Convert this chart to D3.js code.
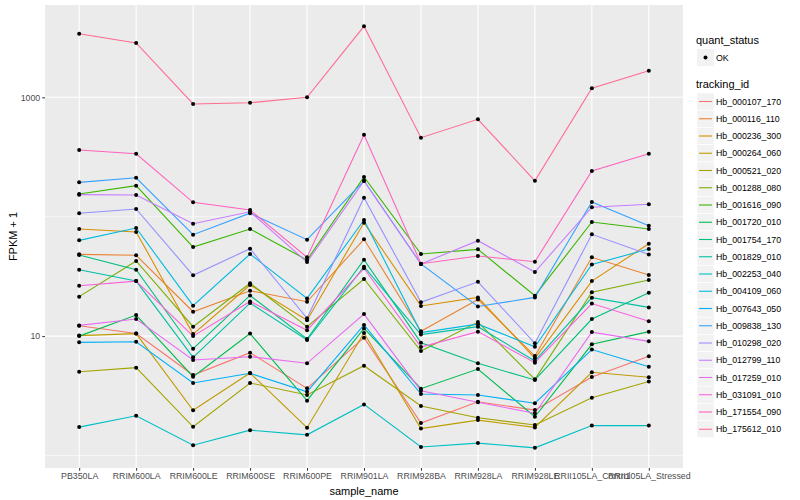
<!DOCTYPE html>
<html>
<head>
<meta charset="utf-8">
<script src="https://cdnjs.cloudflare.com/ajax/libs/d3/7.8.5/d3.min.js"></script>
<style>
  body { margin: 0; background: #fff; }
  text { font-family: "Liberation Sans", Arial, Helvetica, sans-serif; }
</style>
</head>
<body>
<svg id="chart"></svg>
<script>
// samples on the x axis
const samples = ["PB350LA", "RRIM600LA", "RRIM600LE", "RRIM600SE", "RRIM600PE", "RRIM901LA",
                 "RRIM928BA", "RRIM928LA", "RRIM928LE", "RRII105LA_Control", "RRII105LA_Stressed"];

const trackingIds = ["Hb_000107_170", "Hb_000116_110", "Hb_000236_300", "Hb_000264_060", "Hb_000521_020",
                     "Hb_001288_080", "Hb_001616_090", "Hb_001720_010", "Hb_001754_170", "Hb_001829_010",
                     "Hb_002253_040", "Hb_004109_060", "Hb_007643_050", "Hb_009838_130", "Hb_010298_020",
                     "Hb_012799_110", "Hb_017259_010", "Hb_031091_010", "Hb_171554_090", "Hb_175612_010"];

// FPKM + 1, one array per tracking_id, in sample order
const hb000107 = [12.2, 10.5, 4.72, 7.26, 3.65, 9.70, 1.87, 2.82, 2.40, 4.54, 6.77];
const hb000116 = [48.4, 47.5, 16.0, 24.0, 19.4, 64.7, 11.0, 20.3, 6.81, 45.7, 32.5];
const hb000236 = [78.9, 74.5, 10.4, 26.8, 13.6, 89.1, 17.9, 21.1, 6.52, 28.9, 59.4];
const hb000264 = [10.1, 10.5, 2.39, 4.91, 1.71, 10.6, 1.68, 1.98, 1.72, 4.98, 4.52];
const hb000521 = [5.03, 5.44, 1.74, 4.05, 3.21, 5.65, 2.60, 2.07, 1.80, 3.05, 4.17];
const hb001288 = [21.4, 42.6, 12.0, 27.7, 12.0, 30.1, 7.50, 13.1, 4.35, 23.3, 29.5];
const hb001616 = [155, 182, 55.7, 78.9, 43.4, 215, 48.7, 53.3, 21.8, 90.3, 78.9];
const hb001720 = [10.0, 15.0, 4.57, 10.5, 2.88, 11.6, 3.63, 5.30, 2.11, 8.54, 10.9];
const hb001754 = [47.8, 36.0, 7.84, 21.9, 9.46, 43.6, 8.81, 5.92, 4.29, 13.9, 23.1];
const hb001829 = [36.0, 28.9, 6.64, 18.9, 9.28, 38.1, 10.3, 12.0, 6.19, 21.0, 17.4];
const hb002253 = [1.73, 2.15, 1.22, 1.63, 1.49, 2.68, 1.18, 1.27, 1.16, 1.78, 1.78];
const hb004109 = [63.4, 80.4, 18.0, 48.7, 20.7, 93.8, 10.7, 12.6, 8.15, 39.8, 53.6];
const hb007643 = [8.87, 8.98, 4.05, 4.88, 3.42, 12.4, 3.27, 3.21, 2.74, 7.72, 5.54];
const hb009838 = [194, 212, 70.7, 107, 64.2, 200, 40.2, 17.7, 21.1, 133, 84.1];
const hb010298 = [107, 116, 32.3, 54.0, 14.1, 144, 19.2, 28.5, 8.70, 71.2, 48.3];
const hb012799 = [153, 152, 87.4, 110, 41.7, 199, 40.2, 63.0, 34.4, 120, 127];
const hb017259 = [12.3, 13.9, 6.31, 6.72, 5.92, 15.3, 3.49, 2.79, 2.26, 10.8, 9.04];
const hb031091 = [26.4, 28.9, 10.0, 19.5, 11.2, 37.0, 8.1, 10.9, 5.99, 18.75, 13.3];
const hb171554 = [362, 337, 132, 114, 45.7, 486, 40.4, 46.9, 42.0, 242, 337];
const hb175612 = [3410, 2850, 879, 901, 1000, 3933, 459, 654, 200, 1190, 1670];

const seriesValues = [hb000107, hb000116, hb000236, hb000264, hb000521, hb001288, hb001616,
                      hb001720, hb001754, hb001829, hb002253, hb004109, hb007643, hb009838,
                      hb010298, hb012799, hb017259, hb031091, hb171554, hb175612];

const yTicks = [10, 1000];
const yMinor = [1, 100];

// default discrete hue palette, 20 levels
const colors = ["#F8766D", "#EA8331", "#D89000", "#C09B00", "#A3A500", "#7CAE00", "#39B600",
                "#00BB4E", "#00BF7D", "#00C1A3", "#00BFC4", "#00BAE0", "#00B0F6", "#35A2FF",
                "#9590FF", "#C77CFF", "#E76BF3", "#FA62DB", "#FF62BC", "#FF6C91"];

const width = 800, height = 500;
const panel = { left: 45, right: 683, top: 5, bottom: 468 };

const svg = d3.select("#chart").attr("width", width).attr("height", height);

const x = d3.scalePoint()
  .domain(samples)
  .range([panel.left, panel.right])
  .padding(0.6);

const y = d3.scaleLog()
  .domain([0.786, 5930])
  .range([panel.bottom, panel.top]);

// panel background and grid
svg.append("rect")
  .attr("x", panel.left).attr("y", panel.top)
  .attr("width", panel.right - panel.left).attr("height", panel.bottom - panel.top)
  .attr("fill", "#EBEBEB");

svg.append("g").selectAll("line").data(yMinor).join("line")
  .attr("x1", panel.left).attr("x2", panel.right)
  .attr("y1", d => y(d)).attr("y2", d => y(d))
  .attr("stroke", "#fff").attr("stroke-width", 0.55);

svg.append("g").selectAll("line").data(yTicks).join("line")
  .attr("x1", panel.left).attr("x2", panel.right)
  .attr("y1", d => y(d)).attr("y2", d => y(d))
  .attr("stroke", "#fff").attr("stroke-width", 1.1);

svg.append("g").selectAll("line").data(samples).join("line")
  .attr("x1", d => x(d)).attr("x2", d => x(d))
  .attr("y1", panel.top).attr("y2", panel.bottom)
  .attr("stroke", "#fff").attr("stroke-width", 1.1);

// lines
const line = d3.line()
  .x((d, i) => x(samples[i]))
  .y(d => y(d));

svg.append("g").selectAll("path").data(seriesValues).join("path")
  .attr("d", line)
  .attr("fill", "none")
  .attr("stroke", (d, i) => colors[i])
  .attr("stroke-width", 1.1);

// points
const points = [];
seriesValues.forEach(vals => vals.forEach((v, i) => points.push({ s: samples[i], v: v })));
svg.append("g").selectAll("circle").data(points).join("circle")
  .attr("cx", d => x(d.s))
  .attr("cy", d => y(d.v))
  .attr("r", 2)
  .attr("fill", "#000");

// axes
const xAxis = d3.axisBottom(x).tickSize(2.75).tickPadding(2);
const gx = svg.append("g")
  .attr("transform", "translate(0," + panel.bottom + ")")
  .call(xAxis);
gx.select(".domain").remove();
gx.selectAll("line").attr("stroke", "#333");
gx.selectAll("text").attr("fill", "#4D4D4D").style("font-size", "8.8px");

const yAxis = d3.axisLeft(y).tickValues(yTicks).tickFormat(d3.format("d")).tickSize(2.75).tickPadding(2);
const gy = svg.append("g")
  .attr("transform", "translate(" + panel.left + ",0)")
  .call(yAxis);
gy.select(".domain").remove();
gy.selectAll("line").attr("stroke", "#333");
gy.selectAll("text").attr("fill", "#4D4D4D").style("font-size", "8.8px");

svg.append("text")
  .attr("x", (panel.left + panel.right) / 2)
  .attr("y", 495)
  .attr("text-anchor", "middle")
  .style("font-size", "11px")
  .text("sample_name");

svg.append("text")
  .attr("transform", "rotate(-90)")
  .attr("x", -(panel.top + panel.bottom) / 2)
  .attr("y", 17)
  .attr("text-anchor", "middle")
  .style("font-size", "11px")
  .text("FPKM + 1");

// legends
const lg = svg.append("g");
lg.append("text").attr("x", 696).attr("y", 44).style("font-size", "11px").text("quant_status");
lg.append("rect").attr("x", 697).attr("y", 49).attr("width", 17).attr("height", 17).attr("fill", "#F2F2F2");
lg.append("circle").attr("cx", 705.5).attr("cy", 57.5).attr("r", 2).attr("fill", "#000");
lg.append("text").attr("x", 716).attr("y", 60.5).style("font-size", "8.8px").text("OK");

lg.append("text").attr("x", 696).attr("y", 88).style("font-size", "11px").text("tracking_id");
const keyStep = 17.25, keyTop = 93;
const keys = lg.selectAll(".key").data(trackingIds).join("g")
  .attr("transform", (d, i) => "translate(697," + (keyTop + i * keyStep) + ")");
keys.append("rect").attr("width", 17).attr("height", 17).attr("fill", "#F2F2F2")
  .attr("stroke", "#fff").attr("stroke-width", 0.5);
keys.append("line").attr("x1", 2).attr("x2", 15).attr("y1", 8.5).attr("y2", 8.5)
  .attr("stroke", (d, i) => colors[i]).attr("stroke-width", 1.1);
keys.append("text").attr("x", 19).attr("y", 11.5).style("font-size", "8.8px").text(d => d);
</script>
</body>
</html>
